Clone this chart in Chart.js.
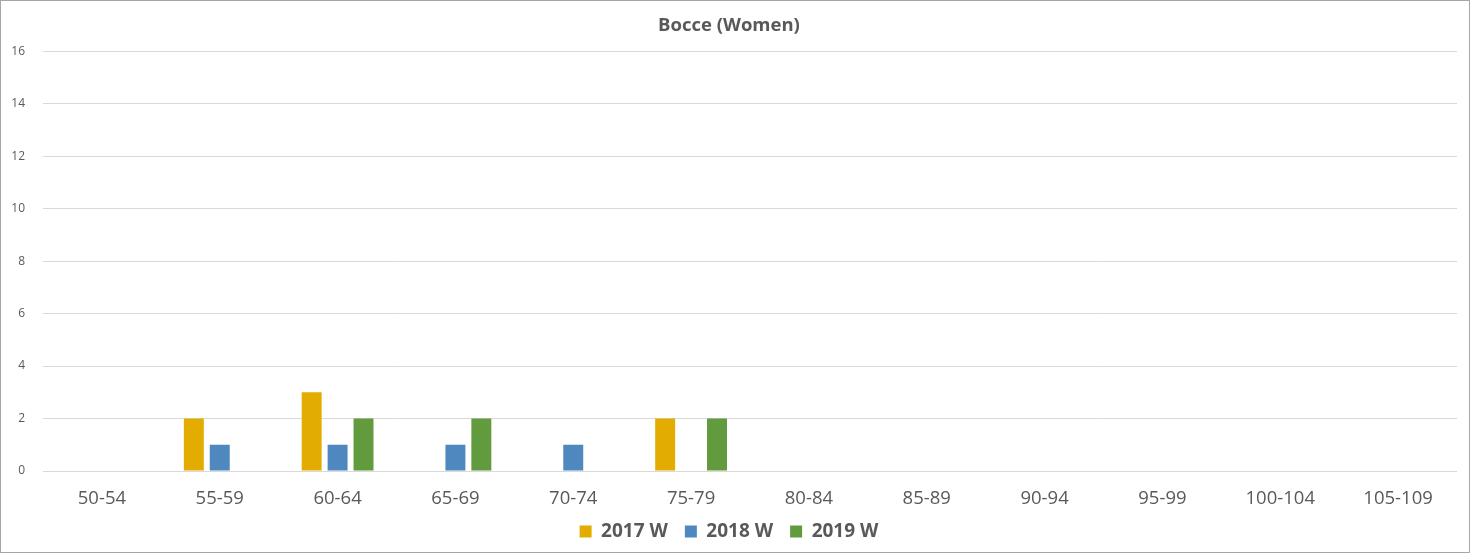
<!DOCTYPE html>
<html lang="en">
<head>
  <meta charset="UTF-8">
  <title>Bocce (Women)</title>
  <script src="https://cdn.jsdelivr.net/npm/chart.js"></script>
  <style>
    html, body { margin: 0; padding: 0; background: #fff; }
    .frame {
      position: absolute; left: 0; top: 0;
      width: 1468px; height: 551px;
      border: 1px solid #a6a6a6;
    }
    canvas { display: block; }
  </style>
</head>
<body>
  <div class="frame">
    <canvas id="chart" width="1468" height="551"></canvas>
  </div>

<script>
    // age groups and counts per year
    const ageGroups = ['50-54', '55-59', '60-64', '65-69', '70-74', '75-79', '80-84', '85-89', '90-94', '95-99', '100-104', '105-109'];
    const women2017 = [0, 2, 3, 0, 0, 2, 0, 0, 0, 0, 0, 0];
    const women2018 = [0, 1, 1, 1, 1, 0, 0, 0, 0, 0, 0, 0];
    const women2019 = [0, 0, 2, 2, 0, 2, 0, 0, 0, 0, 0, 0];
    const yTicks = [0, 2, 4, 6, 8, 10, 12, 14, 16];

    const fontFamily = '"Open Sans", sans-serif';
    const textColor = '#595959';

    const ctx = document.getElementById('chart').getContext('2d');

    new Chart(ctx, {
        type: 'bar',
        data: {
            labels: ageGroups,
            datasets: [
                { label: '2017 W', data: women2017, backgroundColor: '#E3AC00' },
                { label: '2018 W', data: women2018, backgroundColor: '#4F88BE' },
                { label: '2019 W', data: women2019, backgroundColor: '#629A3E' }
            ]
        },
        options: {
            responsive: false,
            animation: false,
            categoryPercentage: 0.66,
            barPercentage: 0.77,
            layout: { padding: { left: 0, right: 12, top: 4, bottom: 1 } },
            scales: {
                x: {
                    afterFit: axis => { axis.height = 34; },
                    grid: { display: false },
                    border: { display: false },
                    ticks: { color: textColor, font: { family: fontFamily, size: 18.5 }, padding: 9 }
                },
                y: {
                    min: 0,
                    max: 16,
                    afterBuildTicks: axis => { axis.ticks = yTicks.map(v => ({ value: v })); },
                    afterFit: axis => { axis.width = 42; },
                    grid: { color: '#d9d9d9', drawTicks: false },
                    border: { display: false },
                    ticks: { color: textColor, font: { family: fontFamily, size: 12 }, padding: 18 }
                }
            },
            plugins: {
                title: {
                    display: true,
                    text: 'Bocce (Women)',
                    color: textColor,
                    font: { family: fontFamily, size: 18.5, weight: 'bold' },
                    padding: { top: 10, bottom: 14 }
                },
                legend: {
                    position: 'bottom',
                    labels: {
                        color: textColor,
                        boxWidth: 12,
                        boxHeight: 12,
                        padding: 17,
                        font: { family: fontFamily, size: 19, weight: 'bold' }
                    }
                },
                tooltip: { enabled: false }
            }
        }
    });
</script>
</body>
</html>
